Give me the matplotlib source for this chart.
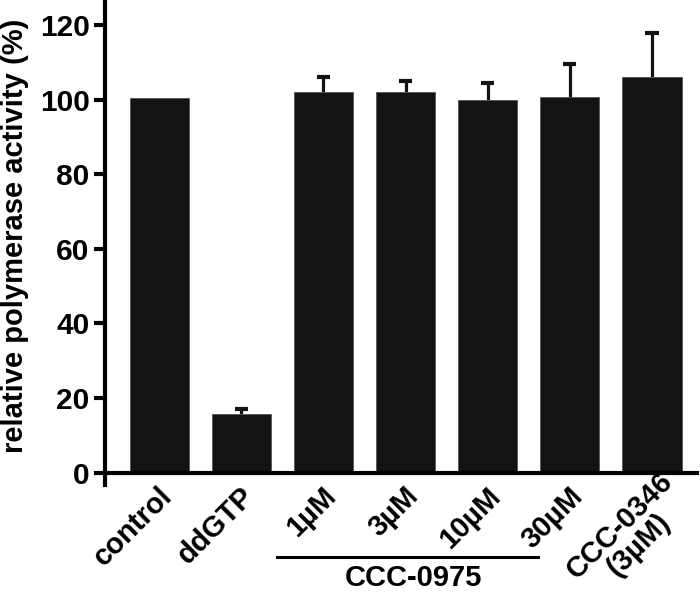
import matplotlib
matplotlib.use("Agg")
import matplotlib.pyplot as plt

# data
labels = ["control", "ddGTP", "1µM", "3µM", "10µM", "30µM", "CCC-0346\n(3µM)"]
activity = [100.4, 15.7, 102.0, 102.1, 99.8, 100.8, 106.1]
err_up = [0.0, 1.3, 4.0, 2.8, 4.7, 8.8, 11.7]
group_label = "CCC-0975"

plt.rcParams["font.family"] = ["Liberation Sans", "DejaVu Sans"]
plt.rcParams["font.weight"] = "bold"

fig = plt.figure(figsize=(7.0, 6.05), dpi=100)
ax = fig.add_axes([0.15, 0.198, 0.846, 0.802])

x = list(range(len(labels)))
bar_color = "#131313"
ax.bar(x, activity, width=0.72, color=bar_color, edgecolor="#555555", linewidth=0.6, zorder=2)

# upper-only error bars (Prism style)
tops = [a + e for a, e in zip(activity, err_up)]
with_err = [i for i in x if err_up[i] > 0]
ax.vlines([x[i] for i in with_err], [activity[i] for i in with_err],
          [tops[i] for i in with_err], color=bar_color, lw=2.3, zorder=1)
ax.hlines([tops[i] for i in with_err], [x[i] - 0.08 for i in with_err],
          [x[i] + 0.08 for i in with_err], color=bar_color, lw=3, zorder=1)

ax.set_xlim(-0.66, 6.55)
ax.set_ylim(-3.4, 126.7)
ax.set_yticks([0, 20, 40, 60, 80, 100, 120])
ax.tick_params(axis="y", direction="out", length=8, width=3, labelsize=21.5, pad=3)
for t in ax.get_yticklabels():
    t.set_fontweight("bold")
ax.set_xticks([])

ax.spines["top"].set_visible(False)
ax.spines["right"].set_visible(False)
ax.spines["left"].set_linewidth(3)
ax.spines["bottom"].set_linewidth(3)
ax.spines["bottom"].set_position(("data", 0))

ax.set_ylabel("relative polymerase activity (%)", fontsize=21, fontweight="bold")
ax.yaxis.set_label_coords(-0.128, 0.515)

# rotated category labels
for i, lab in enumerate(labels):
    off = (19, -10) if i == len(labels) - 1 else (6, -14)
    ax.annotate(lab, xy=(i, 0), xycoords="data", xytext=off, textcoords="offset points",
                rotation=45, ha="right", va="center", rotation_mode="anchor",
                fontsize=21, fontweight="bold", multialignment="center",
                linespacing=0.95, annotation_clip=False)

# bracket under the CCC-0975 concentration series
fig.add_artist(plt.Line2D([277 / 700, 538 / 700], [1 - 557 / 605] * 2, color="black", lw=2.2))
fig.text(413 / 700, 1 - 578 / 605, group_label, ha="center", va="center",
         fontsize=21, fontweight="bold")

fig.savefig("out.png", dpi=100)
